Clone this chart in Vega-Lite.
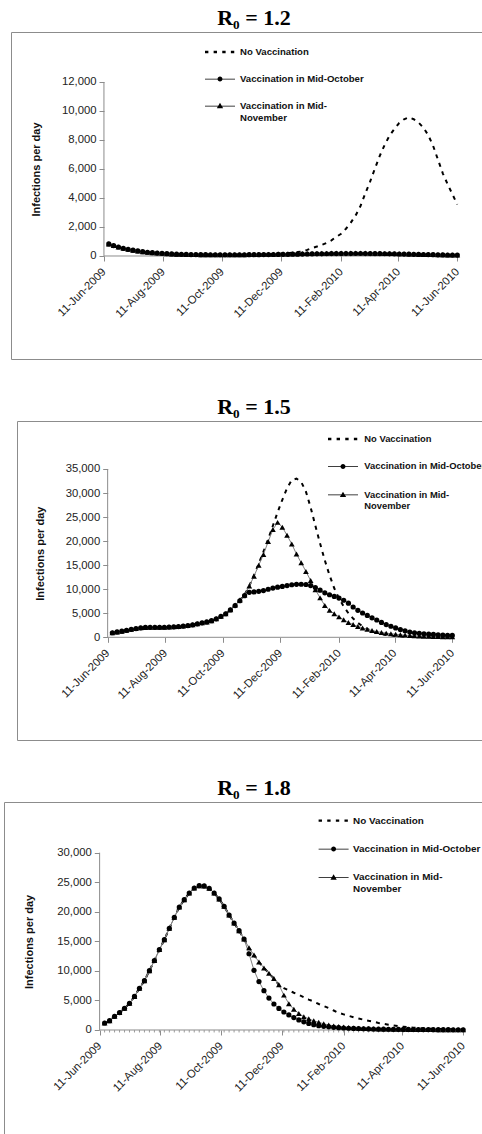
{
"$schema": "https://vega.github.io/schema/vega-lite/v6.json",
"background": "white",
"padding": {"left": 3, "top": 6, "right": 0, "bottom": 0},
"spacing": 62,
"bounds": "flush",
"center": true,
"resolve": {"scale": {"shape": "independent"}, "legend": {"shape": "independent"}},
"config": {
  "view": {"stroke": "#8c8c8c", "strokeWidth": 1},
  "font": "Liberation Sans",
  "axis": {"labelFont": "Liberation Sans", "labelFontSize": 11.3, "labelColor": "#222", "tickColor": "#8c8c8c", "tickWidth": 1, "tickSize": 5, "titleFont": "Liberation Sans", "titleFontSize": 11, "titleFontWeight": "bold", "titleColor": "#111", "grid": false, "domain": false, "labelOverlap": false, "labelFlush": false, "labelPadding": 3},
  "axisX": {"labelPadding": 9},
  "legend": {"labelFont": "Liberation Sans", "labelFontWeight": "bold", "labelColor": "#111", "labelLimit": 400, "symbolSize": 225, "symbolFillColor": "black", "symbolOpacity": 1, "padding": 0, "labelBaseline": "middle"},
  "title": {"font": "Liberation Serif", "fontSize": 22, "fontWeight": "bold", "color": "#000", "anchor": "middle", "frame": "group", "offset": 2}
},
"datasets": {
"r12": [
{"d":"2009-06-16","nv":830,"oct":830,"nov":830},
{"d":"2009-06-21","nv":720,"oct":720,"nov":720},
{"d":"2009-06-26","nv":620,"oct":620,"nov":620},
{"d":"2009-07-01","nv":530,"oct":530,"nov":530},
{"d":"2009-07-06","nv":460,"oct":460,"nov":460},
{"d":"2009-07-11","nv":400,"oct":400,"nov":400},
{"d":"2009-07-16","nv":350,"oct":350,"nov":350},
{"d":"2009-07-21","nv":300,"oct":300,"nov":300},
{"d":"2009-07-26","nv":260,"oct":260,"nov":260},
{"d":"2009-07-31","nv":230,"oct":230,"nov":230},
{"d":"2009-08-05","nv":200,"oct":200,"nov":200},
{"d":"2009-08-10","nv":180,"oct":180,"nov":180},
{"d":"2009-08-15","nv":160,"oct":160,"nov":160},
{"d":"2009-08-20","nv":140,"oct":140,"nov":140},
{"d":"2009-08-25","nv":125,"oct":125,"nov":125},
{"d":"2009-08-30","nv":115,"oct":115,"nov":115},
{"d":"2009-09-04","nv":105,"oct":105,"nov":105},
{"d":"2009-09-09","nv":100,"oct":100,"nov":100},
{"d":"2009-09-14","nv":95,"oct":95,"nov":95},
{"d":"2009-09-19","nv":90,"oct":90,"nov":90},
{"d":"2009-09-24","nv":88,"oct":88,"nov":88},
{"d":"2009-09-29","nv":86,"oct":86,"nov":86},
{"d":"2009-10-04","nv":85,"oct":85,"nov":85},
{"d":"2009-10-09","nv":85,"oct":85,"nov":85},
{"d":"2009-10-14","nv":85,"oct":85,"nov":85},
{"d":"2009-10-19","nv":86,"oct":84,"nov":86},
{"d":"2009-10-24","nv":88,"oct":84,"nov":88},
{"d":"2009-10-29","nv":90,"oct":85,"nov":90},
{"d":"2009-11-03","nv":93,"oct":86,"nov":93},
{"d":"2009-11-08","nv":97,"oct":88,"nov":97},
{"d":"2009-11-13","nv":102,"oct":90,"nov":102},
{"d":"2009-11-18","nv":108,"oct":93,"nov":107},
{"d":"2009-11-23","nv":115,"oct":96,"nov":112},
{"d":"2009-11-28","nv":124,"oct":100,"nov":118},
{"d":"2009-12-03","nv":135,"oct":104,"nov":124},
{"d":"2009-12-08","nv":150,"oct":108,"nov":130},
{"d":"2009-12-13","nv":170,"oct":113,"nov":137},
{"d":"2009-12-18","nv":195,"oct":118,"nov":144},
{"d":"2009-12-23","nv":230,"oct":123,"nov":151},
{"d":"2009-12-28","nv":270,"oct":128,"nov":158},
{"d":"2010-01-02","nv":320,"oct":133,"nov":165},
{"d":"2010-01-07","nv":420,"oct":138,"nov":172},
{"d":"2010-01-12","nv":540,"oct":143,"nov":179},
{"d":"2010-01-17","nv":650,"oct":148,"nov":185},
{"d":"2010-01-22","nv":770,"oct":152,"nov":191},
{"d":"2010-01-27","nv":900,"oct":156,"nov":196},
{"d":"2010-02-01","nv":1080,"oct":160,"nov":200},
{"d":"2010-02-06","nv":1320,"oct":163,"nov":203},
{"d":"2010-02-11","nv":1530,"oct":166,"nov":205},
{"d":"2010-02-16","nv":1880,"oct":168,"nov":206},
{"d":"2010-02-21","nv":2300,"oct":170,"nov":206},
{"d":"2010-02-26","nv":2800,"oct":171,"nov":205},
{"d":"2010-03-03","nv":3450,"oct":171,"nov":203},
{"d":"2010-03-08","nv":4320,"oct":170,"nov":200},
{"d":"2010-03-13","nv":5140,"oct":168,"nov":196},
{"d":"2010-03-18","nv":6050,"oct":165,"nov":191},
{"d":"2010-03-23","nv":6920,"oct":161,"nov":185},
{"d":"2010-03-28","nv":7670,"oct":156,"nov":178},
{"d":"2010-04-02","nv":8300,"oct":150,"nov":171},
{"d":"2010-04-07","nv":8760,"oct":144,"nov":163},
{"d":"2010-04-12","nv":9170,"oct":137,"nov":155},
{"d":"2010-04-17","nv":9430,"oct":130,"nov":146},
{"d":"2010-04-22","nv":9560,"oct":123,"nov":137},
{"d":"2010-04-27","nv":9430,"oct":116,"nov":128},
{"d":"2010-05-02","nv":9200,"oct":109,"nov":119},
{"d":"2010-05-07","nv":8850,"oct":102,"nov":110},
{"d":"2010-05-12","nv":8330,"oct":95,"nov":102},
{"d":"2010-05-17","nv":7600,"oct":88,"nov":94},
{"d":"2010-05-22","nv":6650,"oct":82,"nov":86},
{"d":"2010-05-27","nv":5700,"oct":76,"nov":79},
{"d":"2010-06-01","nv":4950,"oct":70,"nov":72},
{"d":"2010-06-06","nv":4250,"oct":65,"nov":66},
{"d":"2010-06-11","nv":3550,"oct":60,"nov":60}
],
"r15": [
{"d":"2009-06-16","nv":950,"oct":950,"nov":950},
{"d":"2009-06-21","nv":1120,"oct":1120,"nov":1120},
{"d":"2009-06-26","nv":1280,"oct":1280,"nov":1280},
{"d":"2009-07-01","nv":1460,"oct":1460,"nov":1460},
{"d":"2009-07-06","nv":1650,"oct":1650,"nov":1650},
{"d":"2009-07-11","nv":1810,"oct":1810,"nov":1810},
{"d":"2009-07-16","nv":1960,"oct":1960,"nov":1960},
{"d":"2009-07-21","nv":2050,"oct":2050,"nov":2050},
{"d":"2009-07-26","nv":2080,"oct":2080,"nov":2080},
{"d":"2009-07-31","nv":2080,"oct":2080,"nov":2080},
{"d":"2009-08-05","nv":2080,"oct":2080,"nov":2080},
{"d":"2009-08-10","nv":2090,"oct":2090,"nov":2090},
{"d":"2009-08-15","nv":2120,"oct":2120,"nov":2120},
{"d":"2009-08-20","nv":2170,"oct":2170,"nov":2170},
{"d":"2009-08-25","nv":2230,"oct":2230,"nov":2230},
{"d":"2009-08-30","nv":2330,"oct":2330,"nov":2330},
{"d":"2009-09-04","nv":2430,"oct":2430,"nov":2430},
{"d":"2009-09-09","nv":2600,"oct":2600,"nov":2600},
{"d":"2009-09-14","nv":2800,"oct":2800,"nov":2800},
{"d":"2009-09-19","nv":3000,"oct":3000,"nov":3000},
{"d":"2009-09-24","nv":3200,"oct":3200,"nov":3200},
{"d":"2009-09-29","nv":3450,"oct":3450,"nov":3450},
{"d":"2009-10-04","nv":3850,"oct":3850,"nov":3850},
{"d":"2009-10-09","nv":4370,"oct":4370,"nov":4370},
{"d":"2009-10-14","nv":4900,"oct":4900,"nov":4900},
{"d":"2009-10-19","nv":5750,"oct":5700,"nov":5750},
{"d":"2009-10-24","nv":6700,"oct":6600,"nov":6700},
{"d":"2009-10-29","nv":7750,"oct":7600,"nov":7750},
{"d":"2009-11-03","nv":8800,"oct":8650,"nov":8800},
{"d":"2009-11-08","nv":10700,"oct":9360,"nov":10650},
{"d":"2009-11-13","nv":12900,"oct":9440,"nov":12700},
{"d":"2009-11-18","nv":15300,"oct":9570,"nov":15000},
{"d":"2009-11-23","nv":17800,"oct":9720,"nov":17200},
{"d":"2009-11-28","nv":20400,"oct":9990,"nov":19900},
{"d":"2009-12-03","nv":23200,"oct":10230,"nov":22400},
{"d":"2009-12-08","nv":26000,"oct":10430,"nov":23900},
{"d":"2009-12-13","nv":28600,"oct":10570,"nov":22900},
{"d":"2009-12-18","nv":31000,"oct":10760,"nov":21200},
{"d":"2009-12-23","nv":32700,"oct":10930,"nov":19400},
{"d":"2009-12-28","nv":33000,"oct":11020,"nov":17300},
{"d":"2010-01-02","nv":32300,"oct":11030,"nov":15500},
{"d":"2010-01-07","nv":30300,"oct":10980,"nov":13700},
{"d":"2010-01-12","nv":27000,"oct":10750,"nov":11800},
{"d":"2010-01-17","nv":23200,"oct":10350,"nov":9900},
{"d":"2010-01-22","nv":19500,"oct":9800,"nov":8200},
{"d":"2010-01-27","nv":16000,"oct":9250,"nov":6600},
{"d":"2010-02-01","nv":12900,"oct":8850,"nov":5600},
{"d":"2010-02-06","nv":10200,"oct":8500,"nov":4900},
{"d":"2010-02-11","nv":8100,"oct":8150,"nov":4250},
{"d":"2010-02-16","nv":6400,"oct":7700,"nov":3650},
{"d":"2010-02-21","nv":5000,"oct":7100,"nov":3100},
{"d":"2010-02-26","nv":3900,"oct":6300,"nov":2650},
{"d":"2010-03-03","nv":3000,"oct":5600,"nov":2250},
{"d":"2010-03-08","nv":2300,"oct":5050,"nov":1950},
{"d":"2010-03-13","nv":1750,"oct":4550,"nov":1650},
{"d":"2010-03-18","nv":1300,"oct":4050,"nov":1400},
{"d":"2010-03-23","nv":950,"oct":3600,"nov":1200},
{"d":"2010-03-28","nv":700,"oct":3100,"nov":1020},
{"d":"2010-04-02","nv":500,"oct":2650,"nov":870},
{"d":"2010-04-07","nv":360,"oct":2300,"nov":740},
{"d":"2010-04-12","nv":260,"oct":1950,"nov":630},
{"d":"2010-04-17","nv":190,"oct":1600,"nov":530},
{"d":"2010-04-22","nv":140,"oct":1350,"nov":450},
{"d":"2010-04-27","nv":100,"oct":1100,"nov":380},
{"d":"2010-05-02","nv":75,"oct":950,"nov":320},
{"d":"2010-05-07","nv":55,"oct":830,"nov":270},
{"d":"2010-05-12","nv":40,"oct":740,"nov":230},
{"d":"2010-05-17","nv":30,"oct":660,"nov":200},
{"d":"2010-05-22","nv":22,"oct":590,"nov":170},
{"d":"2010-05-27","nv":16,"oct":530,"nov":150},
{"d":"2010-06-01","nv":12,"oct":470,"nov":130},
{"d":"2010-06-06","nv":9,"oct":420,"nov":110},
{"d":"2010-06-11","nv":7,"oct":380,"nov":100}
],
"r18": [
{"d":"2009-06-16","nv":1180,"oct":1180,"nov":1180},
{"d":"2009-06-21","nv":1580,"oct":1580,"nov":1580},
{"d":"2009-06-26","nv":2310,"oct":2310,"nov":2310},
{"d":"2009-07-01","nv":2950,"oct":2950,"nov":2950},
{"d":"2009-07-06","nv":3660,"oct":3660,"nov":3660},
{"d":"2009-07-11","nv":4510,"oct":4510,"nov":4510},
{"d":"2009-07-16","nv":5680,"oct":5680,"nov":5680},
{"d":"2009-07-21","nv":7050,"oct":7050,"nov":7050},
{"d":"2009-07-26","nv":8350,"oct":8350,"nov":8350},
{"d":"2009-07-31","nv":10040,"oct":10040,"nov":10040},
{"d":"2009-08-05","nv":11750,"oct":11750,"nov":11750},
{"d":"2009-08-10","nv":13600,"oct":13600,"nov":13600},
{"d":"2009-08-15","nv":15280,"oct":15280,"nov":15280},
{"d":"2009-08-20","nv":17200,"oct":17200,"nov":17200},
{"d":"2009-08-25","nv":19060,"oct":19060,"nov":19060},
{"d":"2009-08-30","nv":20800,"oct":20800,"nov":20800},
{"d":"2009-09-04","nv":22050,"oct":22050,"nov":22050},
{"d":"2009-09-09","nv":23180,"oct":23180,"nov":23180},
{"d":"2009-09-14","nv":24030,"oct":24030,"nov":24030},
{"d":"2009-09-19","nv":24420,"oct":24420,"nov":24420},
{"d":"2009-09-24","nv":24380,"oct":24380,"nov":24380},
{"d":"2009-09-29","nv":23980,"oct":23980,"nov":23980},
{"d":"2009-10-04","nv":23180,"oct":23180,"nov":23180},
{"d":"2009-10-09","nv":22170,"oct":22170,"nov":22170},
{"d":"2009-10-14","nv":20930,"oct":20930,"nov":20930},
{"d":"2009-10-19","nv":19460,"oct":19460,"nov":19460},
{"d":"2009-10-24","nv":18100,"oct":18100,"nov":18100},
{"d":"2009-10-29","nv":16810,"oct":16810,"nov":16810},
{"d":"2009-11-03","nv":15400,"oct":15400,"nov":15400},
{"d":"2009-11-08","nv":13900,"oct":12900,"nov":13900},
{"d":"2009-11-13","nv":12700,"oct":10100,"nov":12700},
{"d":"2009-11-18","nv":11500,"oct":8200,"nov":11500},
{"d":"2009-11-23","nv":10500,"oct":6650,"nov":10500},
{"d":"2009-11-28","nv":9600,"oct":5400,"nov":9600},
{"d":"2009-12-03","nv":8700,"oct":4400,"nov":8700},
{"d":"2009-12-08","nv":7650,"oct":3650,"nov":7650},
{"d":"2009-12-13","nv":7100,"oct":3050,"nov":5900},
{"d":"2009-12-18","nv":6700,"oct":2550,"nov":4450},
{"d":"2009-12-23","nv":6300,"oct":2100,"nov":3500},
{"d":"2009-12-28","nv":5950,"oct":1700,"nov":2800},
{"d":"2010-01-02","nv":5550,"oct":1380,"nov":2250},
{"d":"2010-01-07","nv":5150,"oct":1120,"nov":1900},
{"d":"2010-01-12","nv":4800,"oct":900,"nov":1550},
{"d":"2010-01-17","nv":4400,"oct":740,"nov":1300},
{"d":"2010-01-22","nv":4050,"oct":620,"nov":1050},
{"d":"2010-01-27","nv":3700,"oct":530,"nov":850},
{"d":"2010-02-01","nv":3300,"oct":450,"nov":700},
{"d":"2010-02-06","nv":2900,"oct":390,"nov":580},
{"d":"2010-02-11","nv":2650,"oct":340,"nov":490},
{"d":"2010-02-16","nv":2400,"oct":300,"nov":420},
{"d":"2010-02-21","nv":2150,"oct":265,"nov":360},
{"d":"2010-02-26","nv":1950,"oct":235,"nov":310},
{"d":"2010-03-03","nv":1750,"oct":210,"nov":270},
{"d":"2010-03-08","nv":1550,"oct":190,"nov":240},
{"d":"2010-03-13","nv":1400,"oct":170,"nov":210},
{"d":"2010-03-18","nv":1200,"oct":155,"nov":185},
{"d":"2010-03-23","nv":1050,"oct":140,"nov":165},
{"d":"2010-03-28","nv":900,"oct":128,"nov":148},
{"d":"2010-04-02","nv":770,"oct":117,"nov":133},
{"d":"2010-04-07","nv":650,"oct":107,"nov":120},
{"d":"2010-04-12","nv":550,"oct":98,"nov":109},
{"d":"2010-04-17","nv":460,"oct":90,"nov":99},
{"d":"2010-04-22","nv":390,"oct":83,"nov":90},
{"d":"2010-04-27","nv":330,"oct":77,"nov":82},
{"d":"2010-05-02","nv":280,"oct":71,"nov":75},
{"d":"2010-05-07","nv":235,"oct":66,"nov":69},
{"d":"2010-05-12","nv":200,"oct":61,"nov":63},
{"d":"2010-05-17","nv":170,"oct":57,"nov":58},
{"d":"2010-05-22","nv":145,"oct":53,"nov":54},
{"d":"2010-05-27","nv":125,"oct":49,"nov":50},
{"d":"2010-06-01","nv":105,"oct":46,"nov":46},
{"d":"2010-06-06","nv":90,"oct":43,"nov":43},
{"d":"2010-06-11","nv":78,"oct":40,"nov":40}
]
},
"vconcat": [
{
  "title": {"text": "R\u2080 = 1.2"},
  "width": 486, "height": 327,
  "data": {"name": "r12"},
  "transform": [{"fold": ["nv", "oct", "nov"], "as": ["s", "v"]}],
  "encoding": {
    "x": {"field": "d", "type": "temporal",
      "scale": {"type": "utc", "nice": false, "domain": [{"year":2009,"month":3,"date":7,"utc":true},{"year":2010,"month":7,"date":22,"utc":true}]},
      "axis": {"offset": -103, "title": null, "format": "%d-%b-%Y", "labelAngle": -45, "labelAlign": "right", "labelBaseline": "middle",
        "values": [{"year":2009,"month":6,"date":11,"utc":true},{"year":2009,"month":8,"date":11,"utc":true},{"year":2009,"month":10,"date":11,"utc":true},{"year":2009,"month":12,"date":11,"utc":true},{"year":2010,"month":2,"date":11,"utc":true},{"year":2010,"month":4,"date":11,"utc":true},{"year":2010,"month":6,"date":11,"utc":true}]}},
    "y": {"field": "v", "type": "quantitative",
      "scale": {"domain": [-7104, 15448], "nice": false, "zero": false},
      "axis": {"offset": -93, "title": "Infections per day", "titleX": -68, "titleY": 137, "titleBaseline": "middle", "titleAngle": -90, "format": ",d", "values": [0, 2000, 4000, 6000, 8000, 10000, 12000]}}
  },
  "layer": [
    {"transform": [{"aggregate": [{"op": "min", "field": "d", "as": "d"}, {"op": "max", "field": "v", "as": "v"}]}], "mark": {"type": "rule", "color": "#8c8c8c"},
     "encoding": {"x": {"datum": {"year":2009,"month":6,"date":11,"utc":true}, "type": "temporal"}, "y": {"datum": 0, "type": "quantitative"}, "y2": {"datum": 12000}}},
    {"transform": [{"aggregate": [{"op": "min", "field": "d", "as": "d"}, {"op": "max", "field": "v", "as": "v"}]}], "mark": {"type": "rule", "color": "#8c8c8c"},
     "encoding": {"y": {"datum": 0, "type": "quantitative"}, "x": {"datum": {"year":2009,"month":6,"date":11,"utc":true}, "type": "temporal"}, "x2": {"datum": {"year":2010,"month":6,"date":12,"utc":true}}}},
    {"transform": [{"filter": "datum.s == 'nv'"}], "mark": {"type": "line", "color": "black", "strokeWidth": 2, "strokeDash": [4, 5]}, "encoding": {}},
    {"transform": [{"filter": "datum.s == 'oct'"}], "mark": {"type": "line", "color": "#808080", "strokeWidth": 1}, "encoding": {}},
    {"transform": [{"filter": "datum.s == 'nov'"}], "mark": {"type": "line", "color": "#808080", "strokeWidth": 1}, "encoding": {}},
    {"transform": [{"filter": "datum.s == 'oct'"}], "mark": {"type": "point", "shape": "circle", "filled": true, "size": 27, "color": "black", "opacity": 1}},
    {"transform": [{"filter": "datum.s == 'nov'"}], "mark": {"type": "point", "shape": "triangle-up", "filled": true, "size": 33, "color": "black", "opacity": 1}},
    {"mark": {"type": "point", "filled": true, "opacity": 0, "color": "black"},
     "encoding": {"shape": {"field": "s", "type": "nominal",
       "scale": {"domain": ["nv", "oct", "nov"], "range": ["M-2,-0.16H-1.55V0.16H-2Z M-0.85,-0.16H-0.4V0.16H-0.85Z M0.3,-0.16H0.75V0.16H0.3Z M1.45,-0.16H1.9V0.16H1.45Z", "M-2,-0.05H2V0.05H-2Z M-0.33,0A0.33,0.33,0,1,1,0.33,0A0.33,0.33,0,1,1,-0.33,0Z", "M-2,-0.05H2V0.05H-2Z M0,-0.42L0.42,0.3L-0.42,0.3Z"]},
       "legend": {"orient": "none", "title": null, "legendX": 200.5, "legendY": 11.5, "labelFontSize": 9.6, "labelOffset": 11.5, "rowPadding": 13,
         "labelExpr": "datum.value == 'nv' ? 'No Vaccination' : datum.value == 'oct' ? 'Vaccination in Mid-October' : ['Vaccination in Mid-', 'November']"}}}}
  ]
},
{
  "title": {"text": "R\u2080 = 1.5"},
  "width": 474, "height": 319,
  "data": {"name": "r15"},
  "transform": [{"fold": ["nv", "oct", "nov"], "as": ["s", "v"]}],
  "encoding": {
    "x": {"field": "d", "type": "temporal",
      "scale": {"type": "utc", "nice": false, "domain": [{"year":2009,"month":3,"date":7,"utc":true},{"year":2010,"month":7,"date":22,"utc":true}]},
      "axis": {"offset": -102.7, "title": null, "format": "%d-%b-%Y", "labelAngle": -45, "labelAlign": "right", "labelBaseline": "middle",
        "values": [{"year":2009,"month":6,"date":11,"utc":true},{"year":2009,"month":8,"date":11,"utc":true},{"year":2009,"month":10,"date":11,"utc":true},{"year":2009,"month":12,"date":11,"utc":true},{"year":2010,"month":2,"date":11,"utc":true},{"year":2010,"month":4,"date":11,"utc":true},{"year":2010,"month":6,"date":11,"utc":true}]}},
    "y": {"field": "v", "type": "quantitative",
      "scale": {"domain": [-21358, 44982], "nice": false, "zero": false},
      "axis": {"offset": -90.7, "title": "Infections per day", "titleX": -67.4, "titleY": 132.2, "titleBaseline": "middle", "titleAngle": -90, "format": ",d", "values": [0, 5000, 10000, 15000, 20000, 25000, 30000, 35000]}}
  },
  "layer": [
    {"transform": [{"aggregate": [{"op": "min", "field": "d", "as": "d"}, {"op": "max", "field": "v", "as": "v"}]}], "mark": {"type": "rule", "color": "#8c8c8c"},
     "encoding": {"x": {"datum": {"year":2009,"month":6,"date":11,"utc":true}, "type": "temporal"}, "y": {"datum": 0, "type": "quantitative"}, "y2": {"datum": 35000}}},
    {"transform": [{"aggregate": [{"op": "min", "field": "d", "as": "d"}, {"op": "max", "field": "v", "as": "v"}]}], "mark": {"type": "rule", "color": "#8c8c8c"},
     "encoding": {"y": {"datum": 0, "type": "quantitative"}, "x": {"datum": {"year":2009,"month":6,"date":11,"utc":true}, "type": "temporal"}, "x2": {"datum": {"year":2010,"month":6,"date":12,"utc":true}}}},
    {"transform": [{"filter": "datum.s == 'nv'"}], "mark": {"type": "line", "color": "black", "strokeWidth": 2, "strokeDash": [4, 5]}, "encoding": {}},
    {"transform": [{"filter": "datum.s == 'oct'"}], "mark": {"type": "line", "color": "#808080", "strokeWidth": 1}, "encoding": {}},
    {"transform": [{"filter": "datum.s == 'nov'"}], "mark": {"type": "line", "color": "#808080", "strokeWidth": 1}, "encoding": {}},
    {"transform": [{"filter": "datum.s == 'oct'"}], "mark": {"type": "point", "shape": "circle", "filled": true, "size": 27, "color": "black", "opacity": 1}},
    {"transform": [{"filter": "datum.s == 'nov'"}], "mark": {"type": "point", "shape": "triangle-up", "filled": true, "size": 33, "color": "black", "opacity": 1}},
    {"mark": {"type": "point", "filled": true, "opacity": 0, "color": "black"},
     "encoding": {"shape": {"field": "s", "type": "nominal",
       "scale": {"domain": ["nv", "oct", "nov"], "range": ["M-2,-0.16H-1.55V0.16H-2Z M-0.85,-0.16H-0.4V0.16H-0.85Z M0.3,-0.16H0.75V0.16H0.3Z M1.45,-0.16H1.9V0.16H1.45Z", "M-2,-0.05H2V0.05H-2Z M-0.33,0A0.33,0.33,0,1,1,0.33,0A0.33,0.33,0,1,1,-0.33,0Z", "M-2,-0.05H2V0.05H-2Z M0,-0.42L0.42,0.3L-0.42,0.3Z"]},
       "legend": {"orient": "none", "title": null, "legendX": 317.5, "legendY": 9.5, "labelFontSize": 9.4, "labelOffset": 12.8, "rowPadding": 14.4,
         "labelExpr": "datum.value == 'nv' ? 'No Vaccination' : datum.value == 'oct' ? 'Vaccination in Mid-October' : ['Vaccination in Mid-', 'November']"}}}}
  ]
},
{
  "title": {"text": "R\u2080 = 1.8"},
  "width": 500, "height": 332,
  "data": {"name": "r18"},
  "transform": [{"fold": ["nv", "oct", "nov"], "as": ["s", "v"]}],
  "encoding": {
    "x": {"field": "d", "type": "temporal",
      "scale": {"type": "utc", "nice": false, "domain": [{"year":2009,"month":3,"date":7,"utc":true},{"year":2010,"month":7,"date":22,"utc":true}]},
      "axis": {"offset": -104, "title": null, "format": "%d-%b-%Y", "labelAngle": -45, "labelAlign": "right", "labelBaseline": "middle",
        "values": [{"year":2009,"month":6,"date":11,"utc":true},{"year":2009,"month":8,"date":11,"utc":true},{"year":2009,"month":10,"date":11,"utc":true},{"year":2009,"month":12,"date":11,"utc":true},{"year":2010,"month":2,"date":11,"utc":true},{"year":2010,"month":4,"date":11,"utc":true},{"year":2010,"month":6,"date":11,"utc":true}]}},
    "y": {"field": "v", "type": "quantitative",
      "scale": {"domain": [-17597, 38578], "nice": false, "zero": false},
      "axis": {"offset": -95.3, "title": "Infections per day", "titleX": -70.3, "titleY": 139.4, "titleBaseline": "middle", "titleAngle": -90, "format": ",d", "values": [0, 5000, 10000, 15000, 20000, 25000, 30000]}}
  },
  "layer": [
    {"transform": [{"aggregate": [{"op": "min", "field": "d", "as": "d"}, {"op": "max", "field": "v", "as": "v"}]}], "mark": {"type": "rule", "color": "#8c8c8c"},
     "encoding": {"x": {"datum": {"year":2009,"month":6,"date":11,"utc":true}, "type": "temporal"}, "y": {"datum": 0, "type": "quantitative"}, "y2": {"datum": 30000}}},
    {"transform": [{"aggregate": [{"op": "min", "field": "d", "as": "d"}, {"op": "max", "field": "v", "as": "v"}]}], "mark": {"type": "rule", "color": "#8c8c8c"},
     "encoding": {"y": {"datum": 0, "type": "quantitative"}, "x": {"datum": {"year":2009,"month":6,"date":11,"utc":true}, "type": "temporal"}, "x2": {"datum": {"year":2010,"month":6,"date":12,"utc":true}}}},
    {"transform": [{"filter": "datum.s == 'nv'"}], "mark": {"type": "rule", "color": "#9a9a9a"},
     "encoding": {"y": {"datum": 0, "type": "quantitative"}, "y2": {"datum": -420}}},
    {"transform": [{"filter": "datum.s == 'nv'"}], "mark": {"type": "line", "color": "black", "strokeWidth": 2, "strokeDash": [4, 5]}, "encoding": {}},
    {"transform": [{"filter": "datum.s == 'oct'"}], "mark": {"type": "line", "color": "#808080", "strokeWidth": 1}, "encoding": {}},
    {"transform": [{"filter": "datum.s == 'nov'"}], "mark": {"type": "line", "color": "#808080", "strokeWidth": 1}, "encoding": {}},
    {"transform": [{"filter": "datum.s == 'oct'"}], "mark": {"type": "point", "shape": "circle", "filled": true, "size": 27, "color": "black", "opacity": 1}},
    {"transform": [{"filter": "datum.s == 'nov'"}], "mark": {"type": "point", "shape": "triangle-up", "filled": true, "size": 33, "color": "black", "opacity": 1}},
    {"mark": {"type": "point", "filled": true, "opacity": 0, "color": "black"},
     "encoding": {"shape": {"field": "s", "type": "nominal",
       "scale": {"domain": ["nv", "oct", "nov"], "range": ["M-2,-0.16H-1.55V0.16H-2Z M-0.85,-0.16H-0.4V0.16H-0.85Z M0.3,-0.16H0.75V0.16H0.3Z M1.45,-0.16H1.9V0.16H1.45Z", "M-2,-0.05H2V0.05H-2Z M-0.33,0A0.33,0.33,0,1,1,0.33,0A0.33,0.33,0,1,1,-0.33,0Z", "M-2,-0.05H2V0.05H-2Z M0,-0.42L0.42,0.3L-0.42,0.3Z"]},
       "legend": {"orient": "none", "title": null, "legendX": 321.1, "legendY": 10.1, "labelFontSize": 9.9, "labelOffset": 10.9, "rowPadding": 14.4,
         "labelExpr": "datum.value == 'nv' ? 'No Vaccination' : datum.value == 'oct' ? 'Vaccination in Mid-October' : ['Vaccination in Mid-', 'November']"}}}}
  ]
}
]
}
